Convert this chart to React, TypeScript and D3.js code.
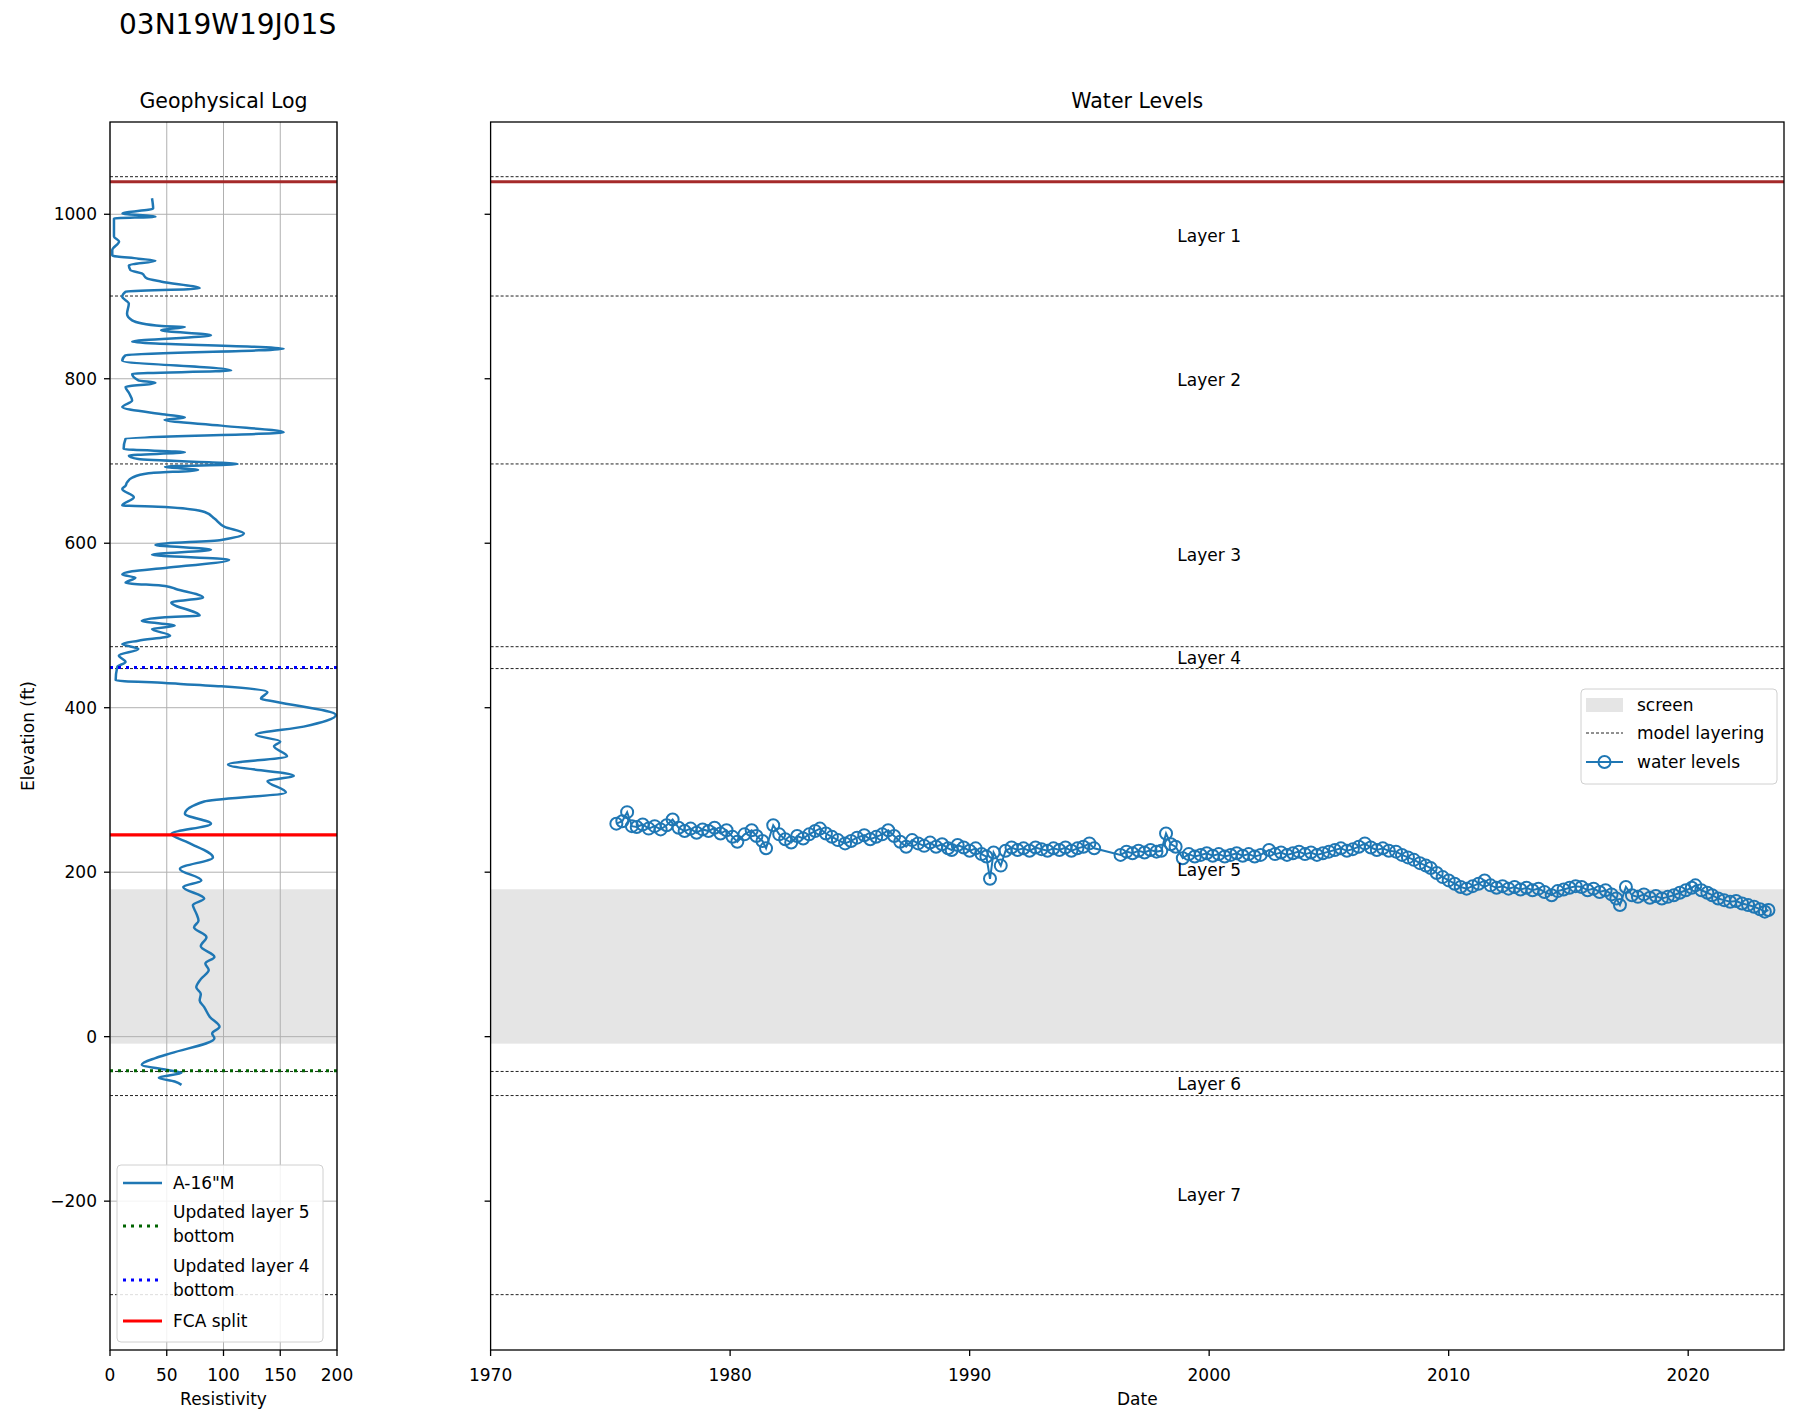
import { useEffect, useRef } from "react";
import * as d3 from "d3";

const wellName = "03N19W19J01S";

// model layer surfaces (ft), top of layer 1 down to bottom of layer 7
const layerSurfaces = [1045.7, 900.6, 696.4, 474.2, 447.6, -42.3, -71.6, -313.7];
const layerNames = ["Layer 1", "Layer 2", "Layer 3", "Layer 4", "Layer 5", "Layer 6", "Layer 7"];
const layerLabelYear = 2000;

const topSurface = 1039.6;
const fcaSplit = 245.3;
const updatedLayer4Bottom = 449;
const updatedLayer5Bottom = -41.3;
const screenTop = 179.2;
const screenBottom = -8.5;

const elevTicks = [-200, 0, 200, 400, 600, 800, 1000];
const resTicks = [0, 50, 100, 150, 200];
const yearTicks = [1970, 1980, 1990, 2000, 2010, 2020];

// [elevation ft, resistivity]
const resistivityLog: [number, number][] = [
  [1019.5, 37], [1007, 38], [1001, 11], [997, 40], [995, 3.5], [973, 3.5], [967, 8],
  [956.5, 2], [950, 2], [946, 25], [943.5, 40], [938, 16.6], [932, 18], [928, 28],
  [922, 32.5], [918, 45.6], [910, 79], [905.7, 13.7], [899.6, 10.8], [891.5, 16.6],
  [879, 15], [871, 19.5], [864, 45.6], [863, 66], [859, 45], [853, 89], [845, 19.5],
  [836.6, 153], [828.5, 13.7], [822, 10.8], [810, 106.7], [806, 19.5], [798, 25],
  [795, 40], [790, 13.7], [782, 17], [773.6, 19.5], [765.5, 10.8], [756.5, 48.5],
  [753, 66], [750, 48], [743, 98], [735, 153], [727, 13.7], [714.6, 12], [710.6, 66],
  [706.5, 16.6], [702.4, 25], [696.3, 112.5], [693, 48.5], [689, 77.6], [685, 34],
  [680, 20], [674, 15], [670, 13.7], [666, 10.8], [656, 21], [646, 10.8], [644, 48.5],
  [638, 83.4], [630, 92], [620, 101], [612, 118], [604, 98], [598, 40], [592, 89],
  [586, 37], [580, 105], [570, 48.5], [566, 19.5], [562, 10.8], [558, 22.4], [552, 13.7],
  [548, 48.5], [544, 58.7], [534, 82], [528, 54], [512, 79], [510, 48.5], [505.6, 28],
  [499.6, 57], [495.6, 37], [487.6, 53], [481.5, 25], [477.5, 10.8], [471.5, 25],
  [463.5, 7.8], [455.6, 13.7], [449.6, 6.4], [433.3, 5], [430, 48.5], [426, 98],
  [419, 138.7], [411, 133], [407, 147], [391, 199], [377, 170.6], [367, 128.5],
  [359, 150], [353, 144.5], [341, 156], [331, 104], [317, 162], [311, 138.7],
  [297, 155], [286, 83], [271, 66], [259, 89], [246.5, 54], [236, 69], [218, 90.7],
  [204, 61.6], [190, 80.5], [182, 64.5], [168, 83], [160, 73], [150, 76], [141, 78],
  [133, 74], [121, 85], [110, 80], [97, 92], [89, 84], [81, 87], [70, 80], [60, 76],
  [52, 80], [44, 79], [36, 83], [24, 88], [12, 96.5], [4, 90], [-2, 92], [-20, 54],
  [-26, 40], [-34, 28], [-40, 48.5], [-44, 63], [-50, 43], [-54.5, 57], [-58.6, 63],
];

// [decimal year, water level elevation ft]
const waterLevels: [number, number][] = [
  [1975.25, 259], [1975.5, 262], [1975.7, 273], [1975.9, 256],
  [1976.1, 255], [1976.35, 258], [1976.6, 253], [1976.85, 256],
  [1977.1, 252], [1977.35, 257], [1977.6, 264], [1977.85, 254],
  [1978.1, 250], [1978.35, 253], [1978.6, 248], [1978.85, 252],
  [1979.1, 250], [1979.35, 254], [1979.6, 247], [1979.85, 251],
  [1980.1, 243], [1980.3, 237], [1980.6, 246], [1980.9, 251],
  [1981.1, 244], [1981.35, 238], [1981.5, 229], [1981.8, 257],
  [1982.05, 246], [1982.3, 240], [1982.55, 236], [1982.8, 244],
  [1983.05, 241], [1983.3, 246], [1983.55, 250], [1983.75, 253],
  [1984.0, 247], [1984.25, 243], [1984.5, 239], [1984.8, 235],
  [1985.05, 238], [1985.3, 242], [1985.6, 245], [1985.85, 240],
  [1986.1, 243], [1986.35, 246], [1986.6, 251], [1986.85, 244],
  [1987.1, 237], [1987.35, 231], [1987.6, 239], [1987.85, 235],
  [1988.1, 232], [1988.35, 236], [1988.6, 231], [1988.85, 234],
  [1989.1, 229], [1989.25, 227], [1989.5, 233], [1989.75, 230],
  [1990.0, 226], [1990.25, 229], [1990.5, 222], [1990.7, 219], [1990.85, 192], [1991.0, 224],
  [1991.3, 208], [1991.5, 226], [1991.75, 230],
  [1992.0, 227], [1992.25, 229], [1992.5, 226], [1992.75, 230],
  [1993.0, 228], [1993.25, 226], [1993.5, 229], [1993.75, 227],
  [1994.0, 230], [1994.25, 226], [1994.5, 229], [1994.75, 231],
  [1995.0, 235], [1995.2, 229],
  [1996.3, 221], [1996.55, 225], [1996.8, 223],
  [1997.05, 226], [1997.3, 224], [1997.55, 227], [1997.8, 225],
  [1998.0, 226], [1998.2, 247], [1998.4, 234], [1998.6, 231], [1998.9, 217],
  [1999.15, 222], [1999.4, 219], [1999.65, 221], [1999.9, 223],
  [2000.15, 220], [2000.4, 222], [2000.65, 219], [2000.9, 221],
  [2001.15, 223], [2001.4, 220], [2001.65, 222], [2001.9, 219],
  [2002.15, 221], [2002.5, 227], [2002.75, 222],
  [2003.0, 224], [2003.25, 221], [2003.5, 223], [2003.75, 225],
  [2004.0, 222], [2004.25, 224], [2004.5, 221], [2004.75, 223],
  [2005.0, 225], [2005.25, 227], [2005.5, 229], [2005.75, 226],
  [2006.0, 228], [2006.25, 231], [2006.5, 235], [2006.75, 230],
  [2007.0, 227], [2007.25, 229], [2007.5, 226], [2007.8, 225],
  [2008.05, 221], [2008.3, 218], [2008.55, 215], [2008.8, 211],
  [2009.05, 208], [2009.25, 205], [2009.5, 199], [2009.75, 194],
  [2010.0, 190], [2010.25, 186], [2010.5, 182], [2010.75, 180],
  [2011.0, 183], [2011.25, 186], [2011.5, 190], [2011.75, 184],
  [2012.0, 181], [2012.25, 183], [2012.5, 180], [2012.75, 182],
  [2013.0, 179], [2013.25, 181], [2013.5, 178], [2013.75, 180],
  [2014.0, 176], [2014.3, 172], [2014.55, 177], [2014.8, 179],
  [2015.05, 181], [2015.3, 183], [2015.55, 182], [2015.8, 178],
  [2016.05, 180], [2016.3, 176], [2016.55, 178], [2016.8, 173],
  [2017.0, 168], [2017.15, 160], [2017.4, 182], [2017.65, 172],
  [2017.9, 170], [2018.15, 173], [2018.4, 169], [2018.65, 171],
  [2018.9, 168], [2019.15, 170], [2019.4, 172], [2019.65, 175],
  [2019.9, 178], [2020.15, 181], [2020.3, 184], [2020.55, 178],
  [2020.8, 175], [2021.0, 172], [2021.25, 168], [2021.5, 166],
  [2021.75, 164], [2022.0, 165], [2022.25, 162], [2022.5, 160],
  [2022.75, 158], [2023.0, 155], [2023.2, 152], [2023.35, 154],
];

const BLUE = "#1f77b4";
const FONT = "DejaVu Sans";

const App = () => {
  const svgRef = useRef(null);

  useEffect(() => {
    if (!svgRef.current) return;
    const svg = d3.select(svgRef.current);
    svg.selectAll("*").remove();
    svg.attr("font-family", FONT);

    // axes boxes
    const top = 122;
    const bottom = 1350;
    const logL = 110;
    const logR = 337;
    const wlL = 490.6;
    const wlR = 1784;

    const y = d3.scaleLinear().domain([-381, 1112.2]).range([bottom, top]);
    const xr = d3.scaleLinear().domain([0, 200]).range([logL, logR]);
    const xt = d3.scaleLinear().domain([1970, 2024]).range([wlL, wlR]);
    const fmt = (v: number) => (v < 0 ? "\u2212" + Math.abs(v) : String(v));

    svg
      .append("text")
      .attr("x", 119)
      .attr("y", 34)
      .attr("font-size", 28)
      .text(wellName);

    // ---------- Geophysical log ----------
    const g1 = svg.append("g");
    g1.append("rect")
      .attr("x", logL)
      .attr("width", logR - logL)
      .attr("y", y(screenTop))
      .attr("height", y(screenBottom) - y(screenTop))
      .attr("fill", "#e5e5e5");

    // grid
    resTicks.forEach((t) => {
      g1.append("line")
        .attr("x1", xr(t)).attr("x2", xr(t))
        .attr("y1", top).attr("y2", bottom)
        .attr("stroke", "#b0b0b0").attr("stroke-width", 1);
    });
    elevTicks.forEach((t) => {
      g1.append("line")
        .attr("x1", logL).attr("x2", logR)
        .attr("y1", y(t)).attr("y2", y(t))
        .attr("stroke", "#b0b0b0").attr("stroke-width", 1);
    });

    const hline = (g: any, x1: number, x2: number, v: number, color: string, w: number, dash?: string) => {
      const l = g.append("line")
        .attr("x1", x1).attr("x2", x2)
        .attr("y1", y(v)).attr("y2", y(v))
        .attr("stroke", color).attr("stroke-width", w);
      if (dash) l.attr("stroke-dasharray", dash);
      return l;
    };

    layerSurfaces.forEach((s) => hline(g1, logL, logR, s, "#222", 1, "3,2"));
    hline(g1, logL, logR, topSurface, "#a52a2a", 3);

    const logLine = d3
      .line<[number, number]>()
      .x((d) => xr(d[1]))
      .y((d) => y(d[0]))
      .curve(d3.curveMonotoneY);
    g1.append("path")
      .datum(resistivityLog)
      .attr("d", logLine)
      .attr("fill", "none")
      .attr("stroke", BLUE)
      .attr("stroke-width", 2.5)
      .attr("stroke-linejoin", "round");

    hline(g1, logL, logR, updatedLayer5Bottom, "darkgreen", 3, "3,5");
    hline(g1, logL, logR, updatedLayer4Bottom, "blue", 3, "3,5");
    hline(g1, logL, logR, fcaSplit, "red", 3.2);

    g1.append("rect")
      .attr("x", logL).attr("y", top)
      .attr("width", logR - logL).attr("height", bottom - top)
      .attr("fill", "none").attr("stroke", "#000").attr("stroke-width", 1.3);

    // y ticks
    elevTicks.forEach((t) => {
      g1.append("line")
        .attr("x1", logL - 6).attr("x2", logL)
        .attr("y1", y(t)).attr("y2", y(t))
        .attr("stroke", "#000").attr("stroke-width", 1.3);
      g1.append("text")
        .attr("x", logL - 13).attr("y", y(t))
        .attr("text-anchor", "end").attr("dominant-baseline", "central")
        .attr("font-size", 17).text(fmt(t));
    });
    resTicks.forEach((t) => {
      g1.append("line")
        .attr("x1", xr(t)).attr("x2", xr(t))
        .attr("y1", bottom).attr("y2", bottom + 6)
        .attr("stroke", "#000").attr("stroke-width", 1.3);
      g1.append("text")
        .attr("x", xr(t)).attr("y", bottom + 25)
        .attr("text-anchor", "middle").attr("dominant-baseline", "central")
        .attr("font-size", 17).text(fmt(t));
    });
    g1.append("text")
      .attr("x", (logL + logR) / 2).attr("y", 108)
      .attr("text-anchor", "middle").attr("font-size", 20.5)
      .text("Geophysical Log");
    g1.append("text")
      .attr("x", (logL + logR) / 2).attr("y", 1399)
      .attr("text-anchor", "middle").attr("dominant-baseline", "central")
      .attr("font-size", 17).text("Resistivity");
    g1.append("text")
      .attr("transform", `translate(28,${(top + bottom) / 2}) rotate(-90)`)
      .attr("text-anchor", "middle").attr("dominant-baseline", "central")
      .attr("font-size", 17).text("Elevation (ft)");

    // legend (log)
    const lg = g1.append("g");
    lg.append("rect")
      .attr("x", 117).attr("y", 1165).attr("width", 206).attr("height", 177)
      .attr("rx", 4).attr("fill", "#fff").attr("fill-opacity", 0.85)
      .attr("stroke", "#d0d0d0");
    const lgItems = [
      { lines: ['A-16"M'], color: BLUE, w: 2.5, dash: null, hy: 1183 },
      { lines: ["Updated layer 5", "bottom"], color: "darkgreen", w: 3, dash: "3,5", hy: 1226 },
      { lines: ["Updated layer 4", "bottom"], color: "blue", w: 3, dash: "3,5", hy: 1280 },
      { lines: ["FCA split"], color: "red", w: 3.2, dash: null, hy: 1321 },
    ];
    lgItems.forEach((it) => {
      const l = lg.append("line")
        .attr("x1", 123).attr("x2", 162).attr("y1", it.hy).attr("y2", it.hy)
        .attr("stroke", it.color).attr("stroke-width", it.w);
      if (it.dash) l.attr("stroke-dasharray", it.dash);
      it.lines.forEach((s, i) => {
        const yy = it.hy - ((it.lines.length - 1) * 24) / 2 + i * 24 - (it.lines.length > 1 ? 2 : 0);
        lg.append("text")
          .attr("x", 173).attr("y", yy)
          .attr("dominant-baseline", "central")
          .attr("font-size", 17).text(s);
      });
    });

    // ---------- Water levels ----------
    const g2 = svg.append("g");
    g2.append("rect")
      .attr("x", wlL).attr("width", wlR - wlL)
      .attr("y", y(screenTop))
      .attr("height", y(screenBottom) - y(screenTop))
      .attr("fill", "#e5e5e5");
    layerSurfaces.forEach((s) => hline(g2, wlL, wlR, s, "#222", 1, "3,2"));
    hline(g2, wlL, wlR, topSurface, "#a52a2a", 3);

    const wlLine = d3
      .line<[number, number]>()
      .x((d) => xt(d[0]))
      .y((d) => y(d[1]));
    g2.append("path")
      .datum(waterLevels)
      .attr("d", wlLine)
      .attr("fill", "none")
      .attr("stroke", BLUE)
      .attr("stroke-width", 2);
    g2.selectAll("circle.wl")
      .data(waterLevels)
      .enter()
      .append("circle")
      .attr("class", "wl")
      .attr("cx", (d) => xt(d[0]))
      .attr("cy", (d) => y(d[1]))
      .attr("r", 6)
      .attr("fill", "none")
      .attr("stroke", BLUE)
      .attr("stroke-width", 2);

    layerNames.forEach((n, i) => {
      const mid = (layerSurfaces[i] + layerSurfaces[i + 1]) / 2;
      g2.append("text")
        .attr("x", xt(layerLabelYear)).attr("y", y(mid))
        .attr("text-anchor", "middle").attr("dominant-baseline", "central")
        .attr("font-size", 17).text(n);
    });

    g2.append("rect")
      .attr("x", wlL).attr("y", top)
      .attr("width", wlR - wlL).attr("height", bottom - top)
      .attr("fill", "none").attr("stroke", "#000").attr("stroke-width", 1.3);

    elevTicks.forEach((t) => {
      g2.append("line")
        .attr("x1", wlL - 6).attr("x2", wlL)
        .attr("y1", y(t)).attr("y2", y(t))
        .attr("stroke", "#000").attr("stroke-width", 1.3);
    });
    yearTicks.forEach((t) => {
      g2.append("line")
        .attr("x1", xt(t)).attr("x2", xt(t))
        .attr("y1", bottom).attr("y2", bottom + 6)
        .attr("stroke", "#000").attr("stroke-width", 1.3);
      g2.append("text")
        .attr("x", xt(t)).attr("y", bottom + 25)
        .attr("text-anchor", "middle").attr("dominant-baseline", "central")
        .attr("font-size", 17).text(String(t));
    });
    g2.append("text")
      .attr("x", (wlL + wlR) / 2).attr("y", 108)
      .attr("text-anchor", "middle").attr("font-size", 20.5)
      .text("Water Levels");
    g2.append("text")
      .attr("x", (wlL + wlR) / 2).attr("y", 1399)
      .attr("text-anchor", "middle").attr("dominant-baseline", "central")
      .attr("font-size", 17).text("Date");

    // legend (water levels)
    const lw = g2.append("g");
    lw.append("rect")
      .attr("x", 1581).attr("y", 689).attr("width", 196).attr("height", 95)
      .attr("rx", 4).attr("fill", "#fff").attr("fill-opacity", 0.85)
      .attr("stroke", "#d0d0d0");
    lw.append("rect")
      .attr("x", 1586).attr("y", 698).attr("width", 37).attr("height", 14)
      .attr("fill", "#e5e5e5");
    lw.append("line")
      .attr("x1", 1586).attr("x2", 1623).attr("y1", 733).attr("y2", 733)
      .attr("stroke", "#222").attr("stroke-width", 1).attr("stroke-dasharray", "3,2");
    lw.append("line")
      .attr("x1", 1586).attr("x2", 1623).attr("y1", 762).attr("y2", 762)
      .attr("stroke", BLUE).attr("stroke-width", 2);
    lw.append("circle")
      .attr("cx", 1604.5).attr("cy", 762).attr("r", 6)
      .attr("fill", "none").attr("stroke", BLUE).attr("stroke-width", 2);
    [["screen", 705], ["model layering", 733], ["water levels", 762]].forEach(([s, yy]) => {
      lw.append("text")
        .attr("x", 1637).attr("y", yy as number)
        .attr("dominant-baseline", "central")
        .attr("font-size", 17).text(s as string);
    });
  }, []);

  return (
    <svg
      ref={svgRef}
      width={1795}
      height={1416}
      style={{ position: "absolute", left: 0, top: 0, background: "#fff" }}
    />
  );
};

export default App;
